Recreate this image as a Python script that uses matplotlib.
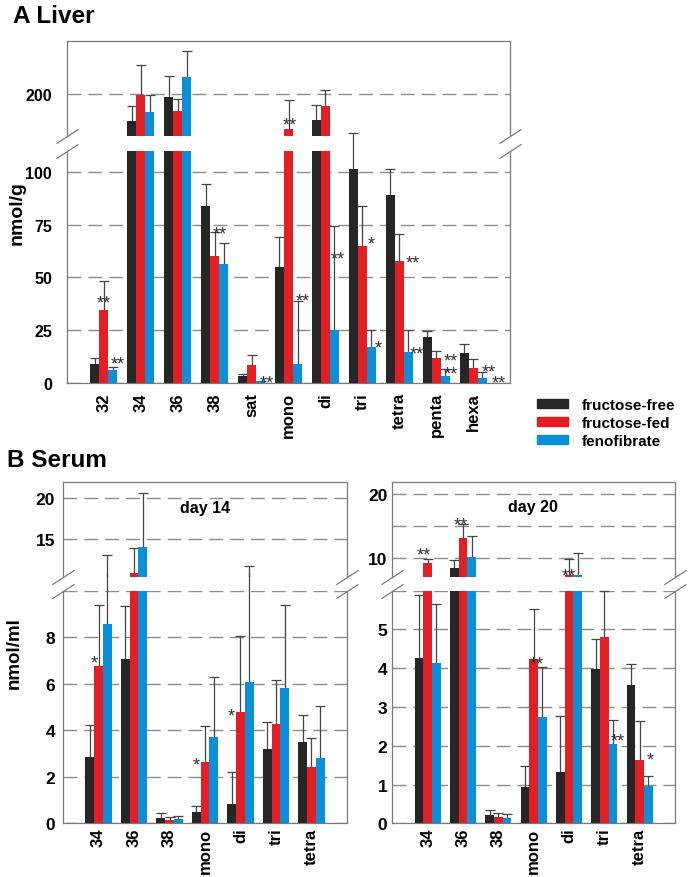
import numpy as np
import matplotlib
matplotlib.use('Agg')
import matplotlib.pyplot as plt
from matplotlib.patches import Patch
from matplotlib.transforms import Bbox, TransformedBbox

# ---- data ----
series_names = ['fructose-free', 'fructose-fed', 'fenofibrate']
colors = ['#262626', '#e31e24', '#0b8fd8']

liver_cats = ['32', '34', '36', '38', 'sat', 'mono', 'di', 'tri', 'tetra', 'penta', 'hexa']
liver_free = [9.0, 187.2, 198.6, 83.6, 3.5, 55.0, 187.5, 101.4, 89.0, 21.6, 14.2]
liver_free_err = [2.7, 7.3, 9.9, 10.4, 0.9, 14.1, 7.1, 16.7, 12.1, 3.2, 4.1]
liver_fed = [34.5, 199.7, 192.1, 60.3, 8.5, 183.3, 194.5, 64.8, 57.6, 11.7, 6.9]
liver_fed_err = [13.9, 13.9, 5.5, 11.2, 4.9, 13.7, 7.2, 19.1, 12.7, 3.4, 4.3]
liver_feno = [6.3, 191.5, 208.2, 56.3, 0.8, 9.0, 25.1, 16.9, 14.8, 3.5, 2.4]
liver_feno_err = [1.4, 8.2, 12.1, 9.8, 0.3, 29.6, 49.0, 8.3, 10.4, 3.1, 2.8]
liver_star_x = [0.0, 0.38, 3.15, 4.42, 5.04, 5.40, 6.34, 7.24, 7.44, 8.38, 8.47, 9.40, 9.40, 10.42, 10.69]
liver_star_y = [40.9, 11.7, 73.3, 3.0, 188.2, 41.8, 61.5, 68.5, 19.2, 59.8, 16.6, 13.2, 7.1, 8.2, 2.7]
liver_star_txt = ['**', '**', '**', '**', '**', '**', '**', '*', '*', '**', '**', '**', '**', '**', '**']

serum_cats = ['34', '36', '38', 'mono', 'di', 'tri', 'tetra']
d14_free = [2.84, 7.05, 0.23, 0.47, 0.83, 3.21, 3.48]
d14_free_err = [1.40, 2.30, 0.20, 0.28, 1.39, 1.16, 1.17]
d14_fed = [6.77, 10.9, 0.16, 2.62, 4.80, 4.27, 2.41]
d14_fed_err = [2.63, 3.0, 0.10, 1.55, 3.26, 1.88, 1.25]
d14_feno = [8.57, 14.1, 0.17, 3.73, 6.08, 5.82, 2.81]
d14_feno_err = [4.59, 6.5, 0.16, 2.58, 5.68, 3.56, 2.24]
d14_star_x = [-0.12, 2.76, 3.73]
d14_star_y = [7.14, 2.77, 4.85]
d14_star_txt = ['*', '*', '*']

d20_free = [4.26, 8.39, 0.22, 0.93, 1.32, 3.97, 3.58]
d20_free_err = [1.62, 1.25, 0.12, 0.54, 1.44, 0.78, 0.52]
d20_fed = [9.22, 13.1, 0.16, 4.23, 7.34, 4.81, 1.62]
d20_fed_err = [0.68, 2.2, 0.11, 1.30, 2.50, 1.19, 1.02]
d20_feno = [4.14, 10.2, 0.14, 2.74, 7.4, 2.05, 0.95]
d20_feno_err = [1.52, 3.3, 0.10, 1.29, 3.4, 0.61, 0.28]
d20_star_x = [-0.11, 0.95, 3.99, 3.10, 5.37, 6.29]
d20_star_y = [11.4, 16.1, 8.18, 4.25, 2.28, 1.79]
d20_star_txt = ['**', '**', '**', '**', '**', '*']

liver_low_ticks = [0, 25, 50, 75, 100]
liver_low_labels = ['0', '25', '50', '75', '100']
liver_up_ticks = [200]
liver_up_labels = ['200']
d14_low_ticks = [0, 2, 4, 6, 8, 10]
d14_low_labels = ['0', '2', '4', '6', '8', '']
d14_up_ticks = [15, 20]
d14_up_labels = ['15', '20']
d20_low_ticks = [0, 1, 2, 3, 4, 5, 6]
d20_low_labels = ['0', '1', '2', '3', '4', '5', '']
d20_up_ticks = [10, 15, 20]
d20_up_labels = ['10', '', '20']

# ---- figure ----
plt.rcParams['font.family'] = ['Liberation Sans', 'DejaVu Sans']
plt.rcParams['font.weight'] = 'bold'

W, H = 691, 878
fig = plt.figure(figsize=(W / 100, H / 100), dpi=100)
SPINE = '#7a7a7a'
GRID = '#8c8c8c'
ERR = '#444444'


def px_axes(left, top, right, bottom):
    return fig.add_axes([left / W, 1 - bottom / H, (right - left) / W, (bottom - top) / H])


def broken_panel(box, cats, vals, errs, up_lim, low_lim, up_ticks, up_labels,
                 low_ticks, low_labels, ypad, ysize, xpad, stars):
    left, right, top, brk_top, brk_bot, bottom = box
    ax_up = px_axes(left, top, right, brk_top)
    ax_lo = px_axes(left, brk_bot, right, bottom)
    x = np.arange(len(cats))
    w = 0.245
    # lower error bars may run a little into the break
    lo_clip = TransformedBbox(Bbox.from_extents(left / W, 1 - bottom / H, right / W,
                                                1 - (brk_top - 4) / H), fig.transFigure)
    for ax in (ax_up, ax_lo):
        for i in range(3):
            xi = x + (i - 1) * w
            v = np.array(vals[i])
            e = np.array(errs[i])
            ax.bar(xi, v, width=w, color=colors[i], zorder=3)
            l1 = ax.vlines(xi, v, v + e, color=ERR, lw=0.9, zorder=2)
            l2, = ax.plot(xi, v + e, ls='none', marker='_', ms=6.5, mew=0.9, color=ERR, zorder=2)
            if ax is ax_lo:
                for a in (l1, l2):
                    a.set_clip_path(None)
                    a.set_clip_box(lo_clip)
        ax.set_xlim(-1, len(cats))
        ax.set_axisbelow(True)
        ax.yaxis.grid(True, linestyle=(0, (10, 5)), color=GRID, linewidth=1.0)
        for s in ax.spines.values():
            s.set_color(SPINE)
            s.set_linewidth(0.9)
        ax.tick_params(length=0, labelsize=ysize, pad=ypad)
    ax_up.set_ylim(*up_lim)
    ax_lo.set_ylim(*low_lim)
    ax_up.spines['bottom'].set_visible(False)
    ax_lo.spines['top'].set_visible(False)
    ax_up.set_xticks([])
    ax_up.set_yticks(up_ticks, up_labels)
    ax_lo.set_yticks(low_ticks, low_labels)
    ax_lo.set_xticks(x, cats, rotation=90, fontsize=12)
    ax_lo.tick_params(axis='x', pad=xpad)

    kw = dict(marker=[(-1, -0.65), (1, 0.65)], markersize=16, ls='none',
              color=SPINE, mec=SPINE, mew=0.9, clip_on=False)
    ax_up.plot([0, 1], [0, 0], transform=ax_up.transAxes, **kw)
    ax_lo.plot([0, 1], [1, 1], transform=ax_lo.transAxes, **kw)

    for sx, sy, st in zip(*stars):
        ax = ax_up if sy > low_lim[1] else ax_lo
        ax.annotate(st, (sx, sy), xytext=(0, -7.5), textcoords='offset points',
                    ha='center', va='baseline', fontsize=13, fontweight='normal',
                    color='#333333', annotation_clip=False, zorder=5)
    return ax_up, ax_lo


broken_panel((67, 510, 42, 137, 152, 384), liver_cats,
             [liver_free, liver_fed, liver_feno],
             [liver_free_err, liver_fed_err, liver_feno_err],
             (180.1, 225.1), (0, 109.8), liver_up_ticks, liver_up_labels,
             liver_low_ticks, liver_low_labels, 10.8, 11.5, 6.5,
             (liver_star_x, liver_star_y, liver_star_txt))

broken_panel((63, 347, 482.7, 577.7, 591.7, 824.3), serum_cats,
             [d14_free, d14_fed, d14_feno],
             [d14_free_err, d14_fed_err, d14_feno_err],
             (10.5, 21.9), (0, 10), d14_up_ticks, d14_up_labels,
             d14_low_ticks, d14_low_labels, 5.8, 12.5, 3,
             (d14_star_x, d14_star_y, d14_star_txt))

broken_panel((392.3, 675, 482.7, 577.7, 591.7, 824.3), serum_cats,
             [d20_free, d20_fed, d20_feno],
             [d20_free_err, d20_fed_err, d20_feno_err],
             (7.08, 21.9), (0, 6), d20_up_ticks, d20_up_labels,
             d20_low_ticks, d20_low_labels, 3.5, 12.5, 3,
             (d20_star_x, d20_star_y, d20_star_txt))

fig.text(12.7 / W, 1 - 22.7 / H, 'A Liver', fontsize=17.5, ha='left', va='baseline')
fig.text(7.3 / W, 1 - 466.7 / H, 'B Serum', fontsize=17.5, ha='left', va='baseline')
fig.text(16.7 / W, 1 - 213 / H, 'nmol/g', fontsize=14, rotation=90, ha='center', va='center')
fig.text(14.5 / W, 1 - 653.5 / H, 'nmol/ml', fontsize=13.5, rotation=90, ha='center', va='center')
fig.text(205 / W, 1 - 509 / H, 'day 14', fontsize=11.5, ha='center', va='center')
fig.text(533.3 / W, 1 - 508 / H, 'day 20', fontsize=11.5, ha='center', va='center')

handles = [Patch(color=c) for c in colors]
fig.legend(handles, series_names, loc='upper left', bbox_to_anchor=(537 / W, 1 - 399 / H),
           frameon=False, fontsize=11, handlelength=2.0, handleheight=0.46,
           handletextpad=0.9, labelspacing=0.26, borderpad=0, borderaxespad=0)

fig.savefig('out.png', dpi=100)
